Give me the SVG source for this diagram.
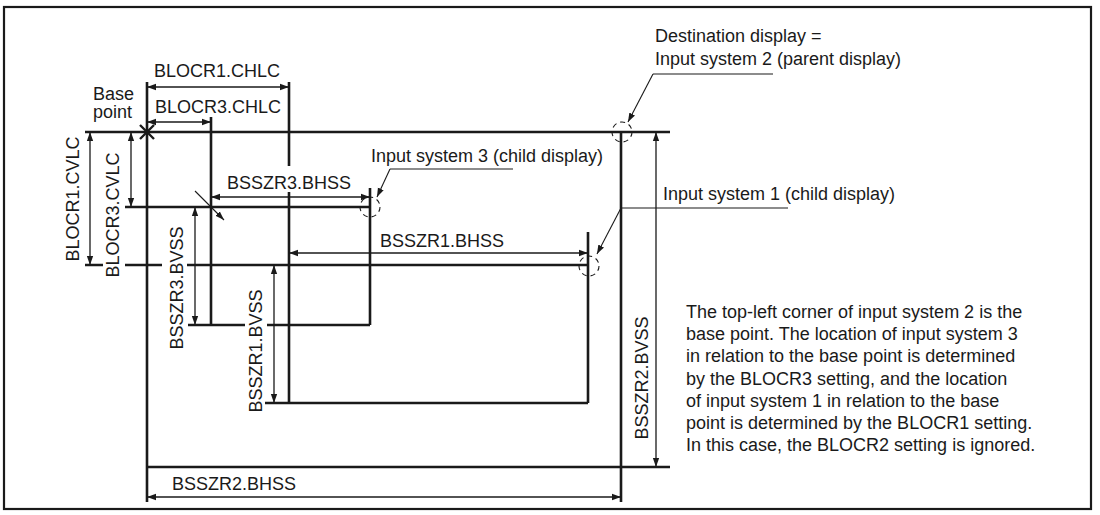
<svg xmlns="http://www.w3.org/2000/svg" width="1100" height="515" viewBox="0 0 1100 515">
<defs>
<marker id="ah" viewBox="0 0 10 10" refX="10" refY="5" markerWidth="9" markerHeight="9" markerUnits="userSpaceOnUse" orient="auto-start-reverse">
<path d="M0,1.5 L10,5 L0,8.5 z" fill="#1a1a1a"/>
</marker>
<style>
text{font-family:"Liberation Sans",Arial,Helvetica,sans-serif;font-size:18px;fill:#1a1a1a}
.vt{text-anchor:middle}
.thick{stroke:#1a1a1a;stroke-width:2.6;fill:none}
.dim{stroke:#1a1a1a;stroke-width:1.3;fill:none;marker-start:url(#ah);marker-end:url(#ah)}
.lead{stroke:#1a1a1a;stroke-width:1.1;fill:none}
.arr{stroke:#1a1a1a;stroke-width:1.1;fill:none;marker-end:url(#ah)}
.circ{stroke:#1a1a1a;stroke-width:1.1;fill:none;stroke-dasharray:5 4}
</style>
</defs>
<rect x="4" y="7" width="1087" height="502" fill="#fff" stroke="#1a1a1a" stroke-width="2.2"/>

<g id="input-system-2">
<line class="thick" x1="85" y1="132" x2="670" y2="132"/>
<line class="thick" x1="147" y1="82" x2="147" y2="502"/>
<line class="thick" x1="621" y1="132" x2="621" y2="502"/>
<line class="thick" x1="147" y1="467" x2="670" y2="467"/>
<circle class="circ" cx="622" cy="132" r="10"/>
</g>

<g id="input-system-3">
<line class="thick" x1="211" y1="117" x2="211" y2="325"/>
<line class="thick" x1="125" y1="207" x2="370" y2="207"/>
<line class="thick" x1="370" y1="188" x2="370" y2="325"/>
<path class="thick" d="M188,325 H245 M267,325 H370"/>
<circle class="circ" cx="370" cy="207" r="10"/>
</g>

<g id="input-system-1">
<path class="thick" d="M289,82 V166 M289,192 V403"/>
<path class="thick" d="M85,265 H103 M125,265 H162 M187,265 H588"/>
<line class="thick" x1="588" y1="232" x2="588" y2="403"/>
<line class="thick" x1="265" y1="403" x2="588" y2="403"/>
<circle class="circ" cx="589" cy="266" r="10"/>
</g>

<g id="base-point">
<path d="M140,125 L154,139 M154,125 L140,139" stroke="#1a1a1a" stroke-width="2.4"/>
<text x="93" y="100">Base</text>
<text x="93" y="118">point</text>
</g>

<g id="connectors">
<line class="dim" x1="147" y1="87" x2="289" y2="87"/>
<line class="dim" x1="147" y1="122" x2="211" y2="122"/>
<line class="dim" x1="90" y1="132" x2="90" y2="265"/>
<line class="dim" x1="131" y1="132" x2="131" y2="207"/>
<line class="dim" x1="211" y1="197" x2="370" y2="197"/>
<line class="dim" x1="195" y1="207" x2="195" y2="325"/>
<line class="dim" x1="289" y1="253" x2="588" y2="253"/>
<line class="dim" x1="274" y1="265" x2="274" y2="403"/>
<line class="dim" x1="656" y1="132" x2="656" y2="467"/>
<line class="dim" x1="147" y1="497" x2="621" y2="497"/>
<line class="arr" x1="195" y1="191" x2="224" y2="220"/>
<line class="lead" x1="653" y1="74" x2="773" y2="74"/>
<line class="arr" x1="653" y1="74" x2="628" y2="122"/>
<line class="lead" x1="390" y1="169" x2="513" y2="169"/>
<line class="arr" x1="390" y1="169" x2="377" y2="197"/>
<line class="lead" x1="621" y1="208" x2="788" y2="208"/>
<line class="arr" x1="621" y1="208" x2="597" y2="254"/>
</g>

<g id="labels">
<text x="154" y="77">BLOCR1.CHLC</text>
<text x="155" y="113">BLOCR3.CHLC</text>
<text x="227" y="189">BSSZR3.BHSS</text>
<text x="380" y="247">BSSZR1.BHSS</text>
<text x="172" y="490">BSSZR2.BHSS</text>
<text x="655" y="42">Destination display =</text>
<text x="655" y="65">Input system 2 (parent display)</text>
<text x="371" y="162">Input system 3 (child display)</text>
<text x="663" y="200">Input system 1 (child display)</text>
<text class="vt" transform="translate(78.5,199) rotate(-90)">BLOCR1.CVLC</text>
<text class="vt" transform="translate(119,215) rotate(-90)">BLOCR3.CVLC</text>
<text class="vt" transform="translate(183,288) rotate(-90)">BSSZR3.BVSS</text>
<text class="vt" transform="translate(262,351) rotate(-90)">BSSZR1.BVSS</text>
<text class="vt" transform="translate(648,378) rotate(-90)">BSSZR2.BVSS</text>
</g>

<g id="note">
<text x="686" y="318">The top-left corner of input system 2 is the</text>
<text x="686" y="340">base point. The location of input system 3</text>
<text x="686" y="362">in relation to the base point is determined</text>
<text x="686" y="385">by the BLOCR3 setting, and the location</text>
<text x="686" y="407">of input system 1 in relation to the base</text>
<text x="686" y="429">point is determined by the BLOCR1 setting.</text>
<text x="686" y="451">In this case, the BLOCR2 setting is ignored.</text>
</g>
</svg>
